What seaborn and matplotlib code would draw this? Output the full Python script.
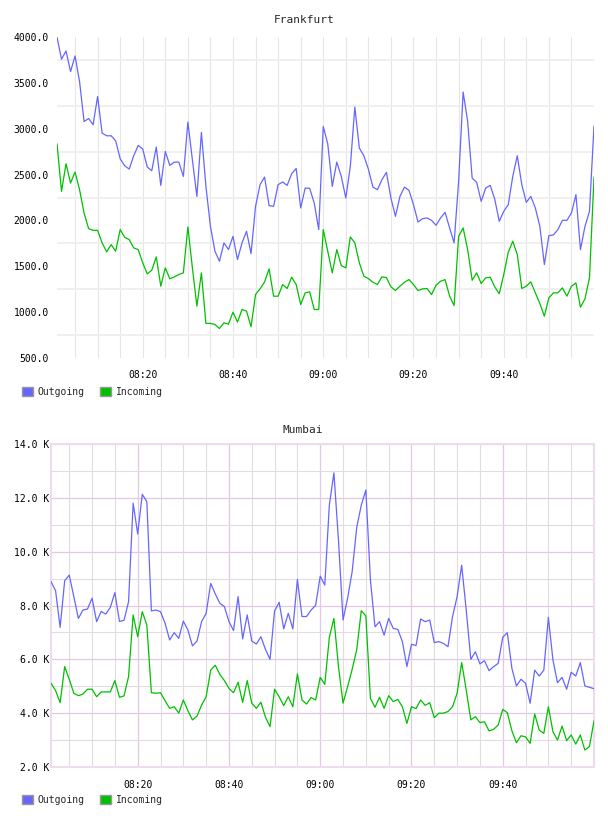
import numpy as np
import pandas as pd
import matplotlib
matplotlib.use("Agg")
import matplotlib.pyplot as plt
import matplotlib.dates as mdates
from matplotlib.patches import Patch
from matplotlib.ticker import FixedLocator, MultipleLocator, FuncFormatter
import seaborn as sns

# one sample per minute, 08:01 .. 10:00
times = pd.date_range("2024-01-01 08:01", periods=120, freq="min")

fra_out = [4000, 3757, 3848, 3623, 3793, 3514, 3079, 3111, 3043, 3351,
           2952, 2923, 2923, 2868, 2672, 2596, 2560, 2705, 2818, 2778,
           2582, 2542, 2800, 2382, 2752, 2600, 2636, 2636, 2480, 3072,
           2662, 2262, 2959, 2371, 1936, 1664, 1555, 1755, 1682, 1827,
           1573, 1755, 1882, 1638, 2154, 2390, 2473, 2161, 2154, 2390,
           2419, 2382, 2509, 2567, 2136, 2353, 2350, 2190, 1900, 3024,
           2835, 2371, 2636, 2480, 2244, 2589, 3235, 2789, 2705, 2560,
           2364, 2335, 2444, 2524, 2244, 2045, 2262, 2364, 2328, 2172,
           1983, 2019, 2027, 2001, 1947, 2027, 2088, 1918, 1755, 2426,
           3400, 3079, 2462, 2415, 2208, 2353, 2382, 2233, 1990, 2099,
           2172, 2480, 2705, 2390, 2197, 2262, 2136, 1936, 1519, 1834,
           1842, 1900, 2001, 2001, 2081, 2281, 1682, 1936, 2099, 3030]
fra_in = [2836, 2317, 2618, 2408, 2527, 2335, 2081, 1911, 1892, 1892,
          1755, 1657, 1736, 1664, 1900, 1816, 1791, 1700, 1682, 1537,
          1417, 1457, 1602, 1283, 1483, 1363, 1385, 1410, 1428, 1929,
          1483, 1065, 1428, 877, 877, 866, 822, 884, 869, 1000,
          891, 1029, 1011, 840, 1192, 1254, 1330, 1472, 1174, 1174,
          1301, 1258, 1381, 1301, 1083, 1210, 1221, 1029, 1029, 1900,
          1664, 1428, 1682, 1508, 1483, 1820, 1755, 1537, 1392, 1366,
          1326, 1301, 1385, 1377, 1276, 1236, 1283, 1326, 1355, 1301,
          1236, 1254, 1258, 1192, 1294, 1337, 1355, 1174, 1072, 1827,
          1918, 1682, 1348, 1428, 1312, 1374, 1381, 1276, 1200, 1410,
          1653, 1773, 1628, 1258, 1283, 1330, 1210, 1094, 956, 1156,
          1210, 1210, 1265, 1174, 1283, 1319, 1054, 1145, 1374, 2472]

# Mumbai in thousands
mum_out = [8.89, 8.55, 7.19, 8.92, 9.13, 8.33, 7.52, 7.83, 7.87, 8.27,
           7.40, 7.78, 7.68, 7.93, 8.48, 7.41, 7.45, 8.14, 11.80, 10.66,
           12.13, 11.86, 7.80, 7.83, 7.77, 7.34, 6.72, 6.99, 6.78, 7.42,
           7.09, 6.50, 6.68, 7.40, 7.71, 8.82, 8.43, 8.08, 7.96, 7.40,
           7.07, 8.33, 6.76, 7.65, 6.68, 6.57, 6.84, 6.37, 6.00, 7.80,
           8.12, 7.13, 7.71, 7.13, 8.97, 7.59, 7.59, 7.83, 8.01, 9.09,
           8.76, 11.73, 12.93, 10.43, 7.46, 8.27, 9.26, 10.90, 11.73, 12.29,
           8.95, 7.21, 7.40, 6.90, 7.52, 7.15, 7.11, 6.66, 5.73, 6.56,
           6.51, 7.50, 7.40, 7.46, 6.62, 6.66, 6.59, 6.47, 7.59, 8.33,
           9.50, 7.83, 6.00, 6.28, 5.83, 5.95, 5.58, 5.73, 5.85, 6.82,
           6.99, 5.67, 5.01, 5.26, 5.11, 4.37, 5.60, 5.38, 5.60, 7.56,
           5.98, 5.13, 5.33, 4.89, 5.52, 5.38, 5.88, 5.01, 4.96, 4.91]
mum_in = [5.11, 4.84, 4.39, 5.73, 5.26, 4.74, 4.65, 4.71, 4.89, 4.89,
          4.61, 4.79, 4.79, 4.79, 5.21, 4.59, 4.64, 5.36, 7.65, 6.84,
          7.77, 7.28, 4.76, 4.74, 4.76, 4.46, 4.18, 4.24, 4.00, 4.49,
          4.09, 3.75, 3.89, 4.30, 4.61, 5.60, 5.78, 5.44, 5.21, 4.92,
          4.76, 5.15, 4.40, 5.21, 4.37, 4.18, 4.41, 3.85, 3.50, 4.89,
          4.61, 4.28, 4.61, 4.24, 5.46, 4.49, 4.34, 4.58, 4.49, 5.33,
          5.07, 6.82, 7.52, 5.73, 4.37, 4.98, 5.63, 6.35, 7.81, 7.61,
          4.55, 4.22, 4.59, 4.18, 4.65, 4.43, 4.51, 4.24, 3.62, 4.24,
          4.17, 4.49, 4.29, 4.39, 3.83, 4.00, 4.00, 4.06, 4.24, 4.74,
          5.88, 4.86, 3.75, 3.87, 3.65, 3.68, 3.34, 3.40, 3.56, 4.14,
          4.02, 3.35, 2.90, 3.16, 3.12, 2.88, 3.97, 3.37, 3.25, 4.24,
          3.31, 3.00, 3.52, 2.98, 3.19, 2.85, 3.19, 2.63, 2.76, 3.71]

series_names = ["Outgoing", "Incoming"]
colors = {"Outgoing": "#6666ff", "Incoming": "#00c000"}

label_times = pd.date_range("2024-01-01 08:20", "2024-01-01 09:40", freq="20min")
grid_times = pd.date_range("2024-01-01 08:05", "2024-01-01 09:55", freq="5min")

sns.set_style("white")
plt.rcParams["font.family"] = ["DejaVu Sans Mono"]
plt.rcParams["font.size"] = 7

fig = plt.figure(figsize=(6.08, 8.16), dpi=100)
ax1 = fig.add_axes([57 / 608, 1 - 358 / 816, 537 / 608, 321 / 816])
ax2 = fig.add_axes([51 / 608, 1 - 767 / 816, 543 / 608, 323 / 816])


def long_df(out_vals, in_vals):
    return pd.DataFrame({
        "time": list(times) * 2,
        "value": list(out_vals) + list(in_vals),
        "series": ["Outgoing"] * len(out_vals) + ["Incoming"] * len(in_vals),
    })


def set_time_axis(ax):
    ax.set_xlim(times[0], times[-1])
    ax.xaxis.set_major_locator(FixedLocator(mdates.date2num(label_times)))
    ax.xaxis.set_minor_locator(FixedLocator(mdates.date2num(grid_times)))
    ax.xaxis.set_major_formatter(mdates.DateFormatter("%H:%M"))
    ax.tick_params(axis="both", which="both", length=0, labelsize=7,
                   labelcolor="#000000")
    ax.tick_params(axis="x", pad=9)
    ax.set_xlabel("")
    ax.set_ylabel("")


# ---- Frankfurt
df1 = long_df(fra_out, fra_in)
sns.lineplot(data=df1, x="time", y="value", hue="series", palette=colors,
             hue_order=series_names, linewidth=0.9, legend=False, ax=ax1, zorder=3)
set_time_axis(ax1)
ax1.set_ylim(500, 4000)
ax1.set_yticks(np.arange(500, 4001, 500))
ax1.yaxis.set_major_formatter(FuncFormatter(lambda v, p: f"{v:.1f}"))
ax1.tick_params(axis="y", pad=6)
for s in ax1.spines.values():
    s.set_visible(False)
for t in grid_times:
    ax1.axvline(t, color="#e6e6e6", lw=0.8, zorder=1)
for v in np.arange(750, 4000, 500):
    ax1.axhline(v, color="#eeeeee", lw=1.2, zorder=1)

# ---- Mumbai
df2 = long_df(mum_out, mum_in)
sns.lineplot(data=df2, x="time", y="value", hue="series", palette=colors,
             hue_order=series_names, linewidth=0.9, legend=False, ax=ax2, zorder=3)
set_time_axis(ax2)
ax2.set_ylim(2, 14)
ax2.yaxis.set_major_locator(MultipleLocator(2))
ax2.yaxis.set_minor_locator(MultipleLocator(1))
ax2.yaxis.set_major_formatter(FuncFormatter(lambda v, p: f"{v:.1f} K"))
ax2.tick_params(axis="y", pad=1)
ax2.grid(which="minor", color="#e2dce2", lw=0.8, zorder=1)
ax2.grid(which="major", color="#e2c8e2", lw=0.9, zorder=1)
ax2.set_axisbelow(True)
for s in ax2.spines.values():
    s.set_color("#ecdcec")
    s.set_linewidth(1.5)

# titles
fig.text(304 / 608, 1 - 20 / 816, "Frankfurt", ha="center", va="center", fontsize=8)
fig.text(303 / 608, 1 - 430 / 816, "Mumbai", ha="center", va="center", fontsize=8)

# legends
handles = [Patch(facecolor=colors[n], edgecolor="#999999", lw=1, label=n)
           for n in series_names]
for ypix in (392, 800):
    fig.legend(handles=handles, loc="center left",
               bbox_to_anchor=(22 / 608, 1 - ypix / 816), ncol=2,
               frameon=False, fontsize=7, handlelength=1.1, handleheight=1.1,
               handletextpad=0.5, columnspacing=1.6, borderpad=0,
               borderaxespad=0)

fig.savefig("out.png", dpi=100, facecolor="white")
